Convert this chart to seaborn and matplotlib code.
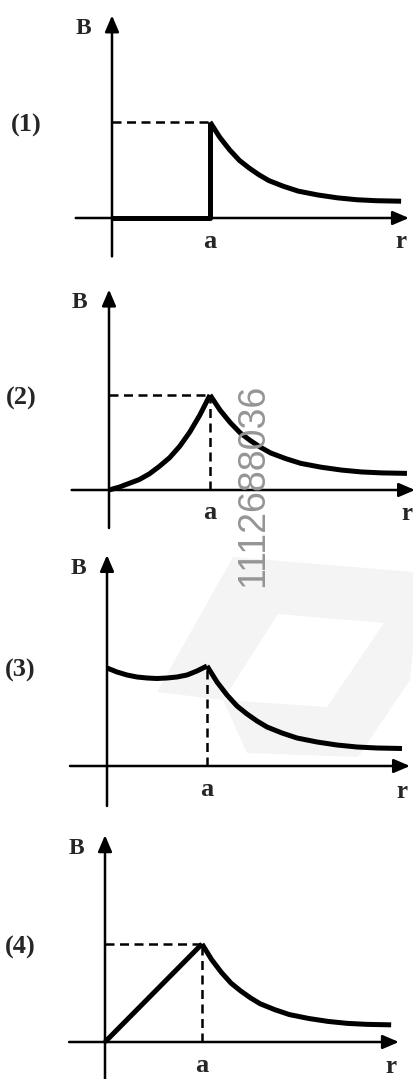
import numpy as np
import pandas as pd
import matplotlib
matplotlib.use("Agg")
import matplotlib.pyplot as plt
import seaborn as sns
from matplotlib import font_manager
from matplotlib.patches import Polygon

# ---------------- data (r in units of a, B in units of B(a)) ----------------
panel_labels = ["(1)", "(2)", "(3)", "(4)"]
y_axis_label = "B"
x_axis_label = "r"
a_label = "a"
a_value = 1.0
B_peak = 1.0

r_inside_1 = [0.0, 1.0, 1.0]
B_inside_1 = [0.0, 0.0, 1.0]
r_inside_2 = [0.0, 0.1, 0.2, 0.3, 0.4, 0.5, 0.6, 0.7, 0.8, 0.9, 1.0]
B_inside_2 = [0.0, 0.03, 0.07, 0.11, 0.17, 0.25, 0.34, 0.46, 0.61, 0.79, 1.0]
r_inside_3 = [0.0, 0.1, 0.2, 0.3, 0.4, 0.5, 0.6, 0.7, 0.8, 0.9, 1.0]
B_inside_3 = [0.98, 0.94, 0.91, 0.89, 0.88, 0.875, 0.88, 0.89, 0.91, 0.95, 1.0]
r_inside_4 = [0.0, 1.0]
B_inside_4 = [0.0, 1.0]

r_outside = [1.0, 1.1, 1.2, 1.3, 1.4, 1.5, 1.6, 1.75, 1.9, 2.1, 2.3, 2.5, 2.7, 2.95]
B_outside = [1.0, 0.84, 0.71, 0.60, 0.52, 0.45, 0.39, 0.33, 0.28, 0.24, 0.21, 0.19, 0.18, 0.175]

watermark_text = "1112688036"

inside_r = [r_inside_1, r_inside_2, r_inside_3, r_inside_4]
inside_B = [B_inside_1, B_inside_2, B_inside_3, B_inside_4]
horizontal_dashed = [True, True, False, True]
vertical_dashed = [False, True, True, True]

# ---------------- layout (pixels) ----------------
W, H = 414, 1079
# origin x, origin y, px per a, px per B_peak, band top, band bottom
layout = [
    (112, 218, 98, 96, 0, 266),
    (109, 490, 101, 95, 266, 538),
    (107, 766, 100, 100, 538, 812),
    (105, 1042, 97, 98, 812, 1079),
]

sns.set_style("white")
serif = ["Liberation Serif", "DejaVu Serif"]
plt.rcParams["font.family"] = serif

fig = plt.figure(figsize=(W / 100, H / 100), dpi=100)
fig.patch.set_facecolor("white")


def px(x, y):
    return (x / W, 1 - y / H)


# faint background logo
outer = [(233, 557), (414, 572), (414, 640), (410, 680), (358, 757), (247, 753), (223, 700), (157, 692)]
inner = [(278, 614), (384, 623), (327, 707), (223, 700)]
fig.patches.append(Polygon([px(*p) for p in outer], closed=True, transform=fig.transFigure,
                           facecolor="#f4f4f4", edgecolor="none", zorder=-5))
fig.patches.append(Polygon([px(*p) for p in inner], closed=True, transform=fig.transFigure,
                           facecolor="white", edgecolor="none", zorder=-4))

CURVE_LW = 3.6
AXIS_LW = 1.8
DASH_LW = 1.8
arrow_kw = dict(arrowstyle="-|>,head_length=0.7,head_width=0.3", lw=AXIS_LW,
                color="black", shrinkA=0, shrinkB=0, mutation_scale=14)

for i, (ox, oy, ux, uy, top, bot) in enumerate(layout):
    ax = fig.add_axes([0, 1 - bot / H, 1, (bot - top) / H])
    ax.patch.set_visible(False)
    ax.set_xlim(-ox / ux, (W - ox) / ux)
    ax.set_ylim((oy - bot) / uy, (oy - top) / uy)

    # axes arrows
    ax.annotate("", xy=(3.03, 0), xytext=(-0.37, 0), arrowprops=arrow_kw, annotation_clip=False)
    ax.annotate("", xy=(0, 2.11), xytext=(0, -0.40), arrowprops=arrow_kw, annotation_clip=False)

    # dashed guides
    if horizontal_dashed[i]:
        ax.plot([0, a_value], [B_peak, B_peak], color="black", lw=DASH_LW, dashes=(3.6, 2.2))
    if vertical_dashed[i]:
        ax.plot([a_value, a_value], [0, B_peak], color="black", lw=DASH_LW, dashes=(3.6, 2.2))

    # curves
    df_in = pd.DataFrame({"r": inside_r[i], "B": inside_B[i]})
    df_out = pd.DataFrame({"r": r_outside, "B": B_outside})
    for df in (df_in, df_out):
        sns.lineplot(data=df, x="r", y="B", ax=ax, color="black", lw=CURVE_LW,
                     estimator=None, sort=False, solid_capstyle="butt", solid_joinstyle="round")
    ax.axis("off")

    # texts
    ax.text(-0.29, 1.97, y_axis_label, ha="center", va="center", fontsize=17, fontweight="bold")
    ax.text(-0.87, 0.96, panel_labels[i], ha="center", va="center", fontsize=19, fontweight="bold")
    ax.text(a_value, -0.24, a_label, ha="center", va="center", fontsize=19, fontweight="bold")
    ax.text(2.95, -0.25, x_axis_label, ha="center", va="center", fontsize=18, fontweight="bold")

# watermark
names = {f.name for f in font_manager.fontManager.ttflist}
if "Liberation Sans Narrow" in names:
    wm_family, wm_size = "Liberation Sans Narrow", 33
else:
    wm_family, wm_size = "Liberation Sans", 27
fig.text(253 / W, 1 - 485 / H, watermark_text, rotation=90, ha="center", va="center",
         color="#959595", fontsize=wm_size, family=wm_family, zorder=10)

fig.savefig("out.png", dpi=100, facecolor="white")
